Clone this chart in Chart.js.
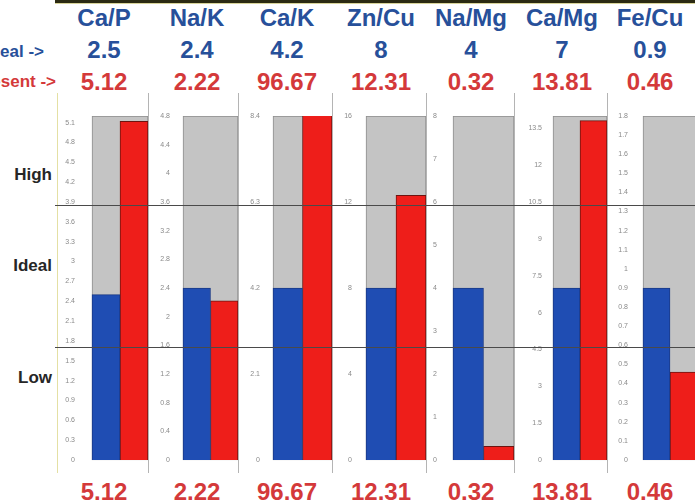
<!DOCTYPE html>
<html>
<head>
<meta charset="utf-8">
<script src="https://cdn.jsdelivr.net/npm/chart.js@4/dist/chart.umd.min.js"></script>
<style>
  html, body { margin:0; padding:0; background:#fff; }
  #wrap { position:relative; width:695px; height:504px; overflow:hidden; background:#fff;
          font-family:"Liberation Sans", Arial, sans-serif; }
  .txt { position:absolute; width:120px; text-align:center; font-weight:bold; white-space:nowrap; }
  .panel { position:absolute; top:93px; height:380px; }
  .sep { position:absolute; top:93px; height:380px; width:1px; background:#b4b4b4; }
  .hline { position:absolute; left:55px; width:640px; height:1px; background:#4a4a4a; z-index:5; }
  .side { position:absolute; font-weight:bold; font-size:17px; color:#262626; }
</style>
</head>
<body>
<div id="wrap"></div>
<script>
// ---- data ----
const categories    = ['Ca/P', 'Na/K', 'Ca/K', 'Zn/Cu', 'Na/Mg', 'Ca/Mg', 'Fe/Cu'];
const idealValues   = [2.5, 2.4, 4.2, 8, 4, 7, 0.9];
const presentValues = [5.12, 2.22, 96.67, 12.31, 0.32, 13.81, 0.46];
const axisMax       = [5.2, 4.8, 8.4, 16, 8, 14, 1.8];
const tickSteps     = [0.3, 0.4, 2.1, 4, 1, 1.5, 0.1];

// ---- layout (pixels) ----
const panelLeft  = [57, 148, 238, 332, 426, 514, 607];
const grayStart  = [92, 183, 273, 366, 453, 553, 643];
const panelRight = [148, 238, 332, 426, 514, 607, 697];
const labelGap   = [17, 13, 13, 14, 16, 11, 15];
const colCenter  = [104, 197, 287, 381, 471, 562, 650];

const BLUE_TXT = '#27509a', RED_TXT = '#d4393a';
const BLUE = '#1f4db3', RED = '#ee1e1a', GRAY = '#c4c4c4';

const wrap = document.getElementById('wrap');
function addText(str, cx, cy, size, color) {
  const d = document.createElement('div');
  d.className = 'txt';
  d.textContent = str;
  d.style.left = (cx - 60) + 'px';
  d.style.top = (cy - size * 0.6) + 'px';
  d.style.fontSize = size + 'px';
  d.style.lineHeight = (size * 1.2) + 'px';
  d.style.color = color;
  wrap.appendChild(d);
  return d;
}

const tb = document.createElement('div');
tb.style.cssText = 'position:absolute;left:55px;top:0;width:640px;height:3px;background:#2b2a12;';
wrap.appendChild(tb);
const tb2 = document.createElement('div');
tb2.style.cssText = 'position:absolute;left:55px;top:3px;width:640px;height:1px;background:#d8d49a;';
wrap.appendChild(tb2);

categories.forEach((c, i) => {
  addText(c, colCenter[i], 18, 24, BLUE_TXT);
  addText(String(idealValues[i]), colCenter[i], 50, 24, BLUE_TXT);
  addText(String(presentValues[i]), colCenter[i], 82, 24, RED_TXT);
  addText(String(presentValues[i]), colCenter[i], 492, 24, RED_TXT);
});

function rowLabel(str, right, cy, color) {
  const d = document.createElement('div');
  d.textContent = str;
  d.style.cssText = 'position:absolute;font-weight:bold;font-size:17px;line-height:20px;white-space:nowrap;text-align:right;width:120px;';
  d.style.left = (right - 120) + 'px';
  d.style.top = (cy - 10) + 'px';
  d.style.color = color;
  wrap.appendChild(d);
}
rowLabel('Ideal ->', 44, 52, BLUE_TXT);
rowLabel('Present ->', 56, 82, RED_TXT);

[['High', 175], ['Ideal', 266], ['Low', 378]].forEach(([t, cy]) => {
  const d = document.createElement('div');
  d.className = 'side';
  d.textContent = t;
  d.style.right = (695 - 52) + 'px';
  d.style.top = (cy - 10) + 'px';
  d.style.lineHeight = '20px';
  wrap.appendChild(d);
});

panelLeft.forEach((x, i) => {
  const s = document.createElement('div');
  s.className = 'sep';
  s.style.left = x + 'px';
  if (i === 0) s.style.background = '#e4e0a4';
  wrap.appendChild(s);
});

categories.forEach((cat, i) => {
  const div = document.createElement('div');
  div.className = 'panel';
  const left = panelLeft[i] + 1;
  const w = panelRight[i] - left;
  div.style.left = left + 'px';
  div.style.width = w + 'px';
  const cv = document.createElement('canvas');
  cv.width = w; cv.height = 380;
  cv.style.width = w + 'px'; cv.style.height = '380px';
  div.appendChild(cv);
  wrap.appendChild(div);
  const axisW = grayStart[i] - left;
  const step = tickSteps[i];
  const clip = {left: 3, right: 3, top: 0, bottom: 3};
  new Chart(cv, {
    type: 'bar',
    data: {
      labels: [cat],
      datasets: [
        { label: 'Ideal', data: [idealValues[i]], backgroundColor: BLUE, borderColor: '#1a3a86',
          borderWidth: 1, order: 1, clip },
        { label: 'Present', data: [presentValues[i]], backgroundColor: RED, borderColor: '#6e1410',
          borderWidth: 1, order: 1, clip },
        { label: 'Range', data: [axisMax[i]], backgroundColor: GRAY, borderColor: '#8e8e8e',
          borderWidth: 1, borderSkipped: false, order: 2, grouped: false, clip }
      ]
    },
    options: {
      responsive: false,
      animation: false,
      devicePixelRatio: 1,
      layout: { padding: { top: 23, bottom: 13, left: 0, right: 0 } },
      plugins: { legend: { display: false }, tooltip: { enabled: false }, title: { display: false } },
      datasets: { bar: { categoryPercentage: 1, barPercentage: 1 } },
      scales: {
        x: { display: false },
        y: {
          min: 0, max: axisMax[i], bounds: 'data',
          grid: { display: false, drawTicks: true, tickLength: labelGap[i] },
          border: { display: false },
          ticks: {
            stepSize: step, autoSkip: false,
            padding: 0, color: '#8a8a8a',
            font: { size: 7, family: 'Liberation Sans' },
            callback: v => String(Math.round(v * 100) / 100)
          },
          afterBuildTicks: s => {
            s.ticks = s.ticks.filter(t => Math.abs(t.value / step - Math.round(t.value / step)) < 1e-6);
          },
          afterFit: s => { s.width = axisW; }
        }
      }
    }
  });
});

[205, 347].forEach(y => {
  const l = document.createElement('div');
  l.className = 'hline';
  l.style.top = y + 'px';
  wrap.appendChild(l);
});
</script>
</body>
</html>
